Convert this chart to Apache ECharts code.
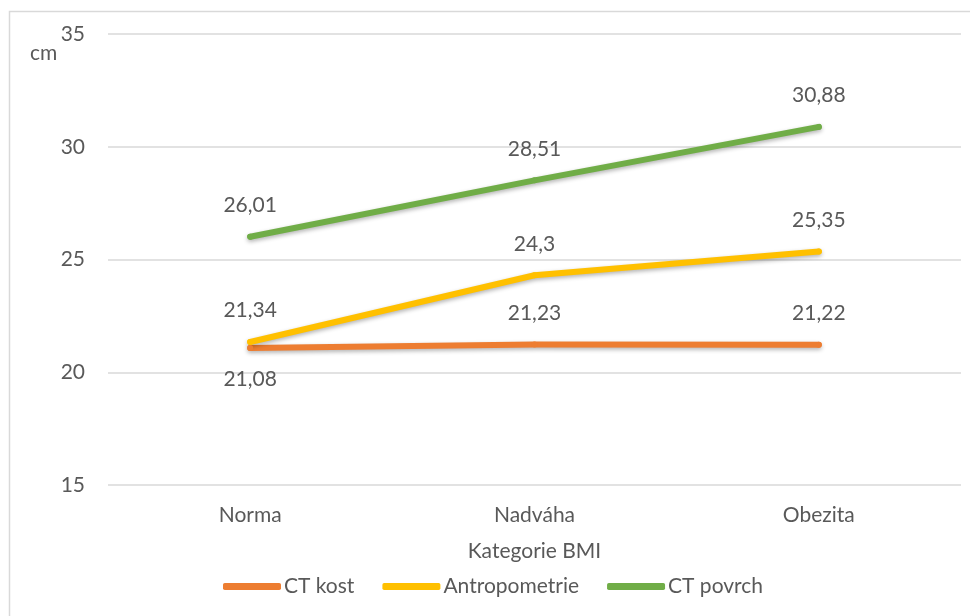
<!DOCTYPE html>
<html>
<head>
<meta charset="utf-8">
<script src="https://cdn.jsdelivr.net/npm/echarts@6/dist/echarts.min.js"></script>
<style>
html,body{margin:0;padding:0;background:#fff;}
#chart{width:970px;height:616px;}
</style>
</head>
<body>
<div id="chart"></div>
<script>
const categories = ['Norma', 'Nadváha', 'Obezita'];
const ctKost = [21.08, 21.23, 21.22];
const antropometrie = [21.34, 24.3, 25.35];
const ctPovrch = [26.01, 28.51, 30.88];
const seriesNames = ['CT kost', 'Antropometrie', 'CT povrch'];
const colors = ['#ED7D31', '#FFC000', '#70AD47'];

const FONT = 'Lato';
const TXT = '#595959';
const fmt = p => String(p.value).replace('.', ',');

function mkSeries(name, data, color, labelPos) {
  return {
    name: name,
    type: 'line',
    data: data.map((v, i) => ({
      value: v,
      label: { position: labelPos[i] }
    })),
    symbol: 'circle',
    symbolSize: 6,
    showSymbol: true,
    lineStyle: {
      color: color, width: 6, cap: 'round', join: 'round',
      shadowBlur: 4, shadowColor: 'rgba(0,0,0,0.3)', shadowOffsetY: 2
    },
    itemStyle: { color: color, borderWidth: 0 },
    label: {
      show: true,
      formatter: fmt,
      distance: 18,
      color: TXT,
      fontFamily: FONT,
      fontSize: 21
    },
    emphasis: { disabled: true },
    silent: true,
    z: 2
  };
}

const chart = echarts.init(document.getElementById('chart'));
chart.setOption({
  animation: false,
  backgroundColor: '#fff',
  color: colors,
  textStyle: { fontFamily: FONT, color: TXT },
  graphic: [
    {
      type: 'rect',
      shape: { x: 9.5, y: 11.5, width: 1000, height: 700 },
      style: { fill: 'none', stroke: '#d9d9d9', lineWidth: 1.5 },
      silent: true
    },
    {
      type: 'text',
      left: 30,
      top: 43,
      style: { text: 'cm', fill: TXT, font: '21px Lato' },
      silent: true
    }
  ],
  grid: { left: 108, right: 9, top: 34, bottom: 131, containLabel: false },
  legend: {
    data: seriesNames,
    left: 223,
    top: 576,
    padding: 0,
    itemWidth: 58,
    itemHeight: 7,
    itemGap: 28,
    icon: 'roundRect',
    textStyle: { color: TXT, fontFamily: FONT, fontSize: 21, padding: [0, 0, 0, -2] },
    selectedMode: false
  },
  xAxis: {
    type: 'category',
    data: categories,
    boundaryGap: true,
    axisLine: { show: false },
    axisTick: { show: false },
    axisLabel: { color: TXT, fontFamily: FONT, fontSize: 21, margin: 20 },
    name: 'Kategorie BMI',
    nameLocation: 'middle',
    nameGap: 56,
    nameTextStyle: { color: TXT, fontFamily: FONT, fontSize: 21 }
  },
  yAxis: {
    type: 'value',
    min: 15,
    max: 35,
    interval: 5,
    axisLine: { show: false },
    axisTick: { show: false },
    axisLabel: { color: TXT, fontFamily: FONT, fontSize: 21, margin: 23 },
    splitLine: { lineStyle: { color: '#d9d9d9', width: 1.5 } }
  },
  series: [
    mkSeries(seriesNames[0], ctKost, colors[0], ['bottom', 'top', 'top']),
    mkSeries(seriesNames[1], antropometrie, colors[1], ['top', 'top', 'top']),
    mkSeries(seriesNames[2], ctPovrch, colors[2], ['top', 'top', 'top'])
  ]
});
</script>
</body>
</html>
